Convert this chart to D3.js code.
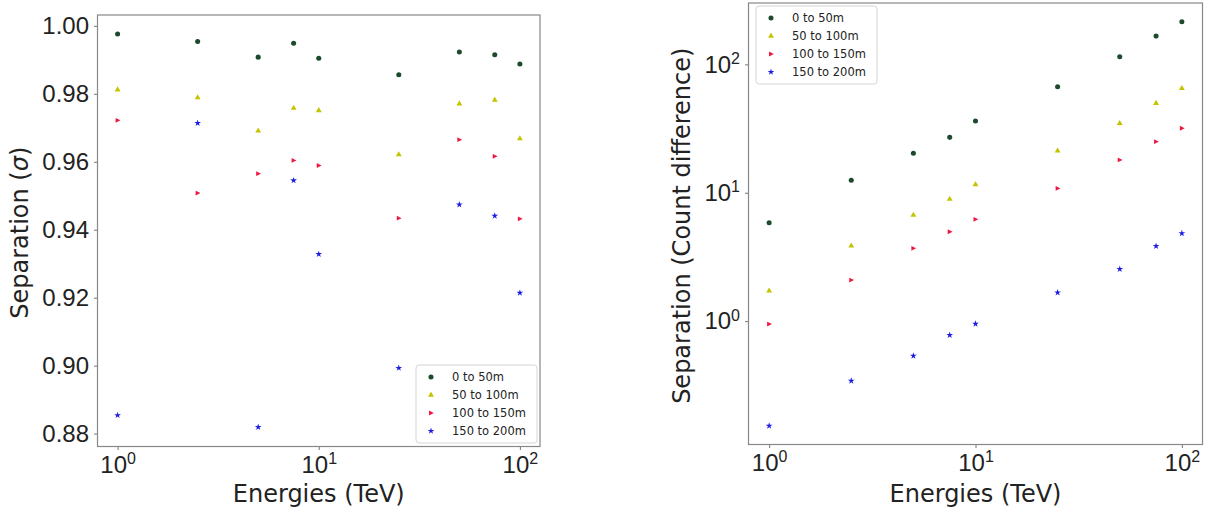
<!DOCTYPE html>
<html>
<head>
<meta charset="utf-8">
<script src="https://cdn.jsdelivr.net/npm/d3@7"></script>
<style>
  body { margin: 0; background: #fff; }
  svg { display: block; font-family: "DejaVu Sans", sans-serif; }
  .tick text { fill: #222; }
</style>
</head>
<body>
<svg id="chart" width="1211" height="511"></svg>
<script>
// energies (TeV)
const energies = [1, 2.5, 5, 7.5, 10, 25, 50, 75, 100];
const seriesNames = ["0 to 50m", "50 to 100m", "100 to 150m", "150 to 200m"];

// left panel: separation in sigma
const sigma0to50 = [0.9976, 0.9954, 0.9908, 0.9949, 0.9905, 0.9856, 0.9923, 0.9915, 0.9888];
const sigma50to100 = [0.9812, 0.9789, 0.9691, 0.9758, 0.9751, 0.9621, 0.9771, 0.9782, 0.9668];
const sigma100to150 = [0.9722, 0.9508, 0.9565, 0.9604, 0.9589, 0.9434, 0.9665, 0.9616, 0.9432];
const sigma150to200 = [0.8854, 0.9714, 0.8819, 0.9545, 0.9328, 0.8993, 0.9474, 0.9441, 0.9214];
const sigmaTicks = [0.88, 0.90, 0.92, 0.94, 0.96, 0.98, 1.00];

// right panel: separation in count difference
const count0to50 = [5.84, 12.5, 20.3, 27.0, 36.2, 67.0, 114.8, 166, 215];
const count50to100 = [1.72, 3.86, 6.70, 8.93, 11.6, 21.2, 34.7, 49.8, 65.1];
const count100to150 = [0.948, 2.09, 3.69, 4.97, 6.21, 10.8, 18.0, 25.0, 31.8];
const count150to200 = [0.153, 0.343, 0.537, 0.778, 0.953, 1.67, 2.54, 3.84, 4.83];

const logTicks = [1, 10, 100];
const supers = {0: "0", 1: "1", 2: "2"};

const colors = ["#1b4a2c", "#c4c400", "#f0163f", "#1c1ce6"];
const shapes = [d3.symbolCircle, d3.symbolTriangle, "tri-right", d3.symbolStar];
const sizes = [20, 15, 20, 14];

const svg = d3.select("#chart");

function marker(g, i, x, y) {
  if (shapes[i] === "tri-right") {
    g.append("path")
      .attr("d", "M-2,-2.4L2.8,0L-2,2.4Z")
      .attr("transform", `translate(${x},${y})`)
      .attr("fill", colors[i]);
  } else {
    g.append("path")
      .attr("d", d3.symbol().type(shapes[i]).size(sizes[i])())
      .attr("transform", `translate(${x},${y})`)
      .attr("fill", colors[i]);
  }
}

function logTickLabel(sel) {
  sel.each(function (d) {
    const t = d3.select(this);
    const e = Math.round(Math.log10(d));
    t.text(null);
    t.append("tspan").text("10");
    t.append("tspan").attr("dy", "-0.55em").attr("font-size", "16px").text(supers[e]);
  });
}

function panel({ left, top, right, bottom, x, y, yLog, series, legendPos, yLabel, yLabelX }) {
  const g = svg.append("g");

  // x axis
  const xAxis = g.append("g")
    .attr("transform", `translate(0,${bottom})`)
    .call(d3.axisBottom(x).tickValues(logTicks).tickSize(3.5).tickPadding(4));
  xAxis.selectAll(".tick text").attr("font-size", "24px").attr("dy", "0.78em").call(logTickLabel);

  // y axis
  const yAxis = g.append("g")
    .attr("transform", `translate(${left},0)`)
    .call(yLog
      ? d3.axisLeft(y).tickValues(logTicks).tickSize(3.5).tickPadding(5)
      : d3.axisLeft(y).tickValues(sigmaTicks).tickFormat(d3.format(".2f")).tickSize(3.5).tickPadding(5));
  yAxis.selectAll(".tick text").attr("font-size", "24px");
  if (yLog) yAxis.selectAll(".tick text").call(logTickLabel);

  g.selectAll(".domain").remove();
  g.selectAll(".tick line").attr("stroke", "#777");

  // frame
  g.append("rect")
    .attr("x", left).attr("y", top)
    .attr("width", right - left).attr("height", bottom - top)
    .attr("fill", "none").attr("stroke", "#888").attr("stroke-width", 1.2);

  // points
  const pts = g.append("g");
  series.forEach((vals, i) => {
    vals.forEach((v, j) => marker(pts, i, x(energies[j]), y(v)));
  });

  // legend
  const lg = g.append("g").attr("transform", `translate(${legendPos.x},${legendPos.y})`);
  lg.append("rect")
    .attr("width", legendPos.w).attr("height", 78).attr("rx", 3)
    .attr("fill", "#fff").attr("fill-opacity", 0.8)
    .attr("stroke", "#d5d5d5");
  seriesNames.forEach((name, i) => {
    const yy = 12 + i * 18;
    marker(lg, i, 15, yy);
    lg.append("text").attr("x", 36).attr("y", yy).attr("dy", "0.35em")
      .attr("font-size", "11.5px").attr("fill", "#222").text(name);
  });

  // labels
  g.append("text")
    .attr("x", (left + right) / 2).attr("y", 502)
    .attr("text-anchor", "middle").attr("font-size", "24px").attr("fill", "#222")
    .text("Energies (TeV)");
  const yl = g.append("text")
    .attr("transform", `translate(${yLabelX},${(top + bottom) / 2 + 2}) rotate(-90)`)
    .attr("text-anchor", "middle").attr("font-size", "24px").attr("fill", "#222");
  yLabel.forEach(part => {
    yl.append("tspan").attr("font-style", part.italic ? "italic" : null).text(part.text);
  });
}

// left panel
{
  const left = 97.5, top = 15, right = 540, bottom = 446.5;
  const x = d3.scaleLog().domain([Math.pow(10, -0.1), Math.pow(10, 2.1)]).range([left, right]);
  const y = d3.scaleLinear().domain([0.8762, 1.0032]).range([bottom, top]);
  panel({
    left, top, right, bottom, x, y, yLog: false,
    series: [sigma0to50, sigma50to100, sigma100to150, sigma150to200],
    legendPos: { x: 416, y: 365, w: 121 },
    yLabel: [{ text: "Separation (" }, { text: "σ", italic: true }, { text: ")" }], yLabelX: 28
  });
}

// right panel
{
  const left = 748.5, top = 3, right = 1202.5, bottom = 444.5;
  const x = d3.scaleLog().domain([Math.pow(10, -0.1), Math.pow(10, 2.1)]).range([left, right]);
  const y = d3.scaleLog().domain([Math.pow(10, -0.961), Math.pow(10, 2.478)]).range([bottom, top]);
  panel({
    left, top, right, bottom, x, y, yLog: true,
    series: [count0to50, count50to100, count100to150, count150to200],
    legendPos: { x: 756, y: 6, w: 121 },
    yLabel: [{ text: "Separation (Count difference)" }], yLabelX: 690
  });
}
</script>
</body>
</html>
